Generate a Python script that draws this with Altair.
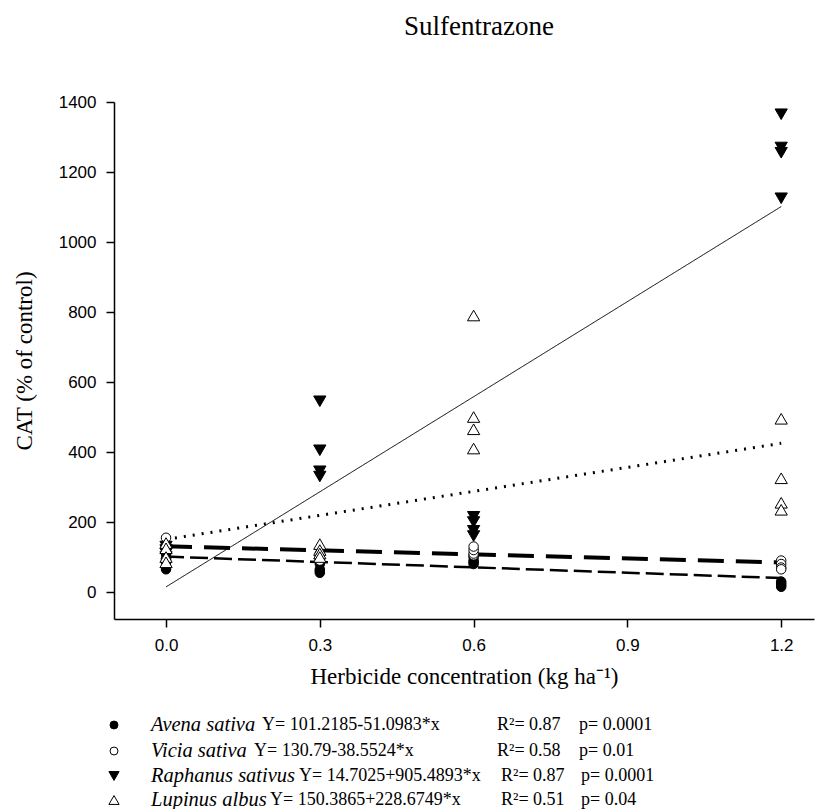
import altair as alt
import pandas as pd

species = ["Avena sativa", "Vicia sativa", "Raphanus sativus", "Lupinus albus"]
doses = [0.0, 0.3, 0.6, 1.2]

# observed CAT (% of control), four replicates per dose
avena = {0.0: [110, 95, 85, 65], 0.3: [55, 60, 65, 80], 0.6: [80, 85, 90, 100], 1.2: [15, 20, 25, 30]}
vicia = {0.0: [155, 130, 110, 95], 0.3: [110, 100, 95, 90], 0.6: [105, 110, 120, 130], 1.2: [90, 80, 70, 65]}
raphanus = {0.0: [130, 120, 110, 100], 0.3: [545, 405, 345, 330], 0.6: [215, 200, 175, 160], 1.2: [1365, 1270, 1255, 1125]}
lupinus = {0.0: [140, 125, 100, 85], 0.3: [137, 120, 110, 100], 0.6: [790, 500, 465, 410], 1.2: [495, 325, 255, 235]}

intercepts = [101.2185, 130.79, 14.7025, 150.3865]
slopes = [-51.0983, -38.5524, 905.4893, 228.6749]
equations = ["Y= 101.2185-51.0983*x", "Y= 130.79-38.5524*x", "Y= 14.7025+905.4893*x", "Y= 150.3865+228.6749*x"]
r2_labels = ["R²= 0.87", "R²= 0.58", "R²= 0.87", "R²= 0.51"]
p_labels = ["p= 0.0001", "p= 0.01", "p= 0.0001", "p= 0.04"]

x_ticks = [0.0, 0.3, 0.6, 0.9, 1.2]
y_ticks = [0, 200, 400, 600, 800, 1000, 1200, 1400]

SERIF = "Liberation Serif"
SANS = "Liberation Sans"

xscale = alt.Scale(domain=[-0.1015, 1.264], nice=False, zero=False)
yscale = alt.Scale(domain=[-77, 1400], nice=False, zero=False)

xaxis = alt.Axis(values=x_ticks, format=".1f", title="Herbicide concentration (kg ha⁻¹)",
                 titleFont=SERIF, titleFontSize=23, titleFontWeight="normal", titlePadding=12,
                 labelFont=SANS, labelFontSize=17, labelPadding=10, tickSize=8)
yaxis = alt.Axis(values=y_ticks, format="d", title="CAT (% of control)",
                 titleFont=SERIF, titleFontSize=23, titleFontWeight="normal", titlePadding=22,
                 labelFont=SANS, labelFontSize=17, labelPadding=10, tickSize=8)

dash_styles = [[18, 6], [26, 12], [1, 0], [2, 7]]
line_widths = [2.5, 4, 1, 3]
shape_range = ["circle", "circle", "triangle-down", "triangle-up"]
fill_range = ["black", "white", "black", "white"]
size_range = [90, 90, 150, 150]

layers = []
for i, (sp, d) in enumerate(zip(species, [avena, vicia, raphanus, lupinus])):
    ldf = pd.DataFrame({"x": [0.0, 1.2],
                        "y": [intercepts[i] + slopes[i] * 0.0, intercepts[i] + slopes[i] * 1.2]})
    enc_x = alt.X("x:Q", scale=xscale, axis=xaxis) if i == 0 else alt.X("x:Q", scale=xscale)
    enc_y = alt.Y("y:Q", scale=yscale, axis=yaxis) if i == 0 else alt.Y("y:Q", scale=yscale)
    layers.append(alt.Chart(ldf).mark_line(color="black", strokeDash=dash_styles[i],
                                           strokeWidth=line_widths[i]).encode(x=enc_x, y=enc_y))

for i, (sp, d) in enumerate(zip(species, [avena, vicia, raphanus, lupinus])):
    xs, ys = [], []
    for x, vals in d.items():
        for v in vals:
            xs.append(x)
            ys.append(v)
    pdf = pd.DataFrame({"x": xs, "y": ys})
    layers.append(alt.Chart(pdf).mark_point(filled=True, stroke="black", strokeWidth=1, opacity=1,
                                            shape=shape_range[i], fill=fill_range[i],
                                            size=size_range[i]).encode(
        x=alt.X("x:Q", scale=xscale), y=alt.Y("y:Q", scale=yscale)))

# custom legend below the plot (pixel positions relative to plot area)
row_y = [623, 649, 674, 698]
sym_x = 0
name_x = 37
eq_x = [148, 140, 185, 156]
r2_x = [383, 383, 387, 387]
p_x = [465, 465, 467, 467]
for i, sp in enumerate(species):
    d1 = pd.DataFrame({"t": [sp]})
    layers.append(alt.Chart(d1).mark_point(filled=True, stroke="black", strokeWidth=1,
                                           shape=shape_range[i], fill=fill_range[i],
                                           size=size_range[i] * 0.7, opacity=1).encode(
        x=alt.value(sym_x), y=alt.value(row_y[i])))
    layers.append(alt.Chart(d1).mark_text(align="left", baseline="middle", font=SERIF,
                                          fontSize=20.5, fontStyle="italic").encode(
        x=alt.value(name_x), y=alt.value(row_y[i]), text="t:N"))
    for xp, lab in [(eq_x[i], equations[i]), (r2_x[i], r2_labels[i]), (p_x[i], p_labels[i])]:
        layers.append(alt.Chart(pd.DataFrame({"t": [lab]})).mark_text(
            align="left", baseline="middle", font=SERIF, fontSize=18).encode(
            x=alt.value(xp), y=alt.value(row_y[i]), text="t:N"))

chart = alt.layer(*layers).properties(
    width=700, height=517,
    title=alt.TitleParams("Sulfentrazone", font=SERIF, fontSize=27, fontWeight="normal",
                          anchor="middle", offset=52, dx=15, color="black"),
).configure_view(stroke=None).configure_axis(
    grid=False, domainColor="black", tickColor="black", labelColor="black", titleColor="black",
    domainWidth=1.5, tickWidth=1.5,
)

chart.save("out.html", embed_options={"renderer": "svg", "actions": False})
